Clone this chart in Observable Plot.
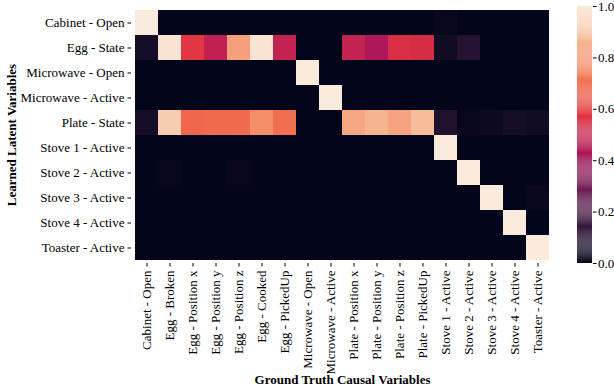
<!DOCTYPE html>
<html>
<head>
<meta charset="utf-8">
<script src="https://cdn.jsdelivr.net/npm/d3@7"></script>
<script src="https://cdn.jsdelivr.net/npm/@observablehq/plot@0.6"></script>
<style>
  html, body { margin: 0; padding: 0; background: white; }
  #wrap { position: relative; width: 614px; height: 392px; overflow: hidden; }
  #wrap svg { position: absolute; top: 0; }
  g[aria-label="x-axis label"] text, g[aria-label="y-axis label"] text { font-weight: bold; }
</style>
</head>
<body>
<div id="wrap"></div>
<script>
// Learned latent variables (rows)
const latentVars = ["Cabinet - Open", "Egg - State", "Microwave - Open", "Microwave - Active",
  "Plate - State", "Stove 1 - Active", "Stove 2 - Active", "Stove 3 - Active",
  "Stove 4 - Active", "Toaster - Active"];
// Ground truth causal variables (columns)
const causalVars = ["Cabinet - Open", "Egg - Broken", "Egg - Position x", "Egg - Position y",
  "Egg - Position z", "Egg - Cooked", "Egg - PickedUp", "Microwave - Open", "Microwave - Active",
  "Plate - Position x", "Plate - Position y", "Plate - Position z", "Plate - PickedUp",
  "Stove 1 - Active", "Stove 2 - Active", "Stove 3 - Active", "Stove 4 - Active", "Toaster - Active"];

// Values per learned latent row (one per causal variable)
const rowCabinetOpen     = [1.00, 0, 0, 0, 0, 0, 0, 0, 0, 0, 0, 0, 0, 0.02, 0, 0, 0, 0];
const rowEggState        = [0.05, 0.98, 0.58, 0.48, 0.81, 0.98, 0.49, 0, 0, 0.49, 0.43, 0.55, 0.54, 0.04, 0.10, 0, 0, 0];
const rowMicrowaveOpen   = [0, 0, 0, 0, 0, 0, 0, 1.00, 0, 0, 0, 0, 0, 0, 0, 0, 0, 0];
const rowMicrowaveActive = [0, 0, 0, 0, 0, 0, 0, 0, 1.00, 0, 0, 0, 0, 0, 0, 0, 0, 0];
const rowPlateState      = [0.05, 0.92, 0.68, 0.69, 0.69, 0.77, 0.70, 0, 0, 0.83, 0.86, 0.82, 0.88, 0.08, 0.01, 0.03, 0.05, 0.04];
const rowStove1          = [0, 0, 0, 0, 0, 0, 0, 0, 0, 0, 0, 0, 0, 1.00, 0, 0, 0, 0];
const rowStove2          = [0, 0.015, 0, 0, 0.01, 0, 0, 0, 0, 0, 0, 0, 0, 0, 1.00, 0, 0, 0];
const rowStove3          = [0, 0, 0, 0, 0, 0, 0, 0, 0, 0, 0, 0, 0, 0, 0, 1.00, 0, 0.02];
const rowStove4          = [0, 0, 0, 0, 0, 0, 0, 0, 0, 0, 0, 0, 0, 0, 0, 0, 1.00, 0];
const rowToaster         = [0, 0, 0, 0, 0, 0, 0, 0, 0, 0, 0, 0, 0, 0, 0, 0, 0, 1.00];

const colorbarTicks = [0, 0.2, 0.4, 0.6, 0.8, 1.0];

// seaborn "rocket" colormap stops
const rocketStops = ["#03051a", "#35193e", "#701f57", "#ad1759", "#e13342", "#f37651", "#f6b48f", "#faebdd"];
const rocketDomain = rocketStops.map((_, i) => i / (rocketStops.length - 1));

const rows = [rowCabinetOpen, rowEggState, rowMicrowaveOpen, rowMicrowaveActive, rowPlateState,
  rowStove1, rowStove2, rowStove3, rowStove4, rowToaster];
const data = [];
rows.forEach((vals, i) => vals.forEach((v, j) => data.push({latent: latentVars[i], gt: causalVars[j], value: v})));

const font = {fontFamily: "'Liberation Serif', serif", fontSize: "13px", background: "white", color: "black"};
const colorScale = {type: "linear", domain: rocketDomain, range: rocketStops, clamp: true};

const main = Plot.plot({
  width: 570, height: 392,
  marginLeft: 131, marginRight: 17, marginTop: 6, marginBottom: 129,
  style: font,
  x: {domain: causalVars, padding: 0},
  y: {domain: latentVars, padding: 0},
  color: colorScale,
  marks: [
    Plot.cell(data, {x: "gt", y: "latent", fill: "value", inset: 0}),
    Plot.axisX({tickRotate: -90, tickSize: 3.5, tickPadding: 3.5, label: "Ground Truth Causal Variables",
      labelAnchor: "center", labelOffset: 120}),
    Plot.axisY({tickSize: 3.5, tickPadding: 3.5, label: "Learned Latent Variables",
      labelAnchor: "center", labelOffset: 125})
  ]
});
main.style.left = "0px";

const bar = d3.range(0, 1, 0.004).map(v => ({v0: v, v1: v + 0.004}));
const cb = Plot.plot({
  width: 54, height: 392,
  marginLeft: 17, marginRight: 22, marginTop: 6, marginBottom: 129,
  style: font,
  x: {domain: [0, 1], axis: null},
  y: {domain: [0, 1]},
  color: colorScale,
  marks: [
    Plot.rect(bar, {x1: 0, x2: 1, y1: "v0", y2: "v1", fill: "v0"}),
    Plot.axisY({anchor: "right", ticks: colorbarTicks, tickFormat: ".1f", tickSize: 3.5, tickPadding: 2, label: null})
  ]
});
cb.style.left = "560px";

const wrap = document.getElementById("wrap");
wrap.appendChild(main);
wrap.appendChild(cb);
</script>
</body>
</html>
